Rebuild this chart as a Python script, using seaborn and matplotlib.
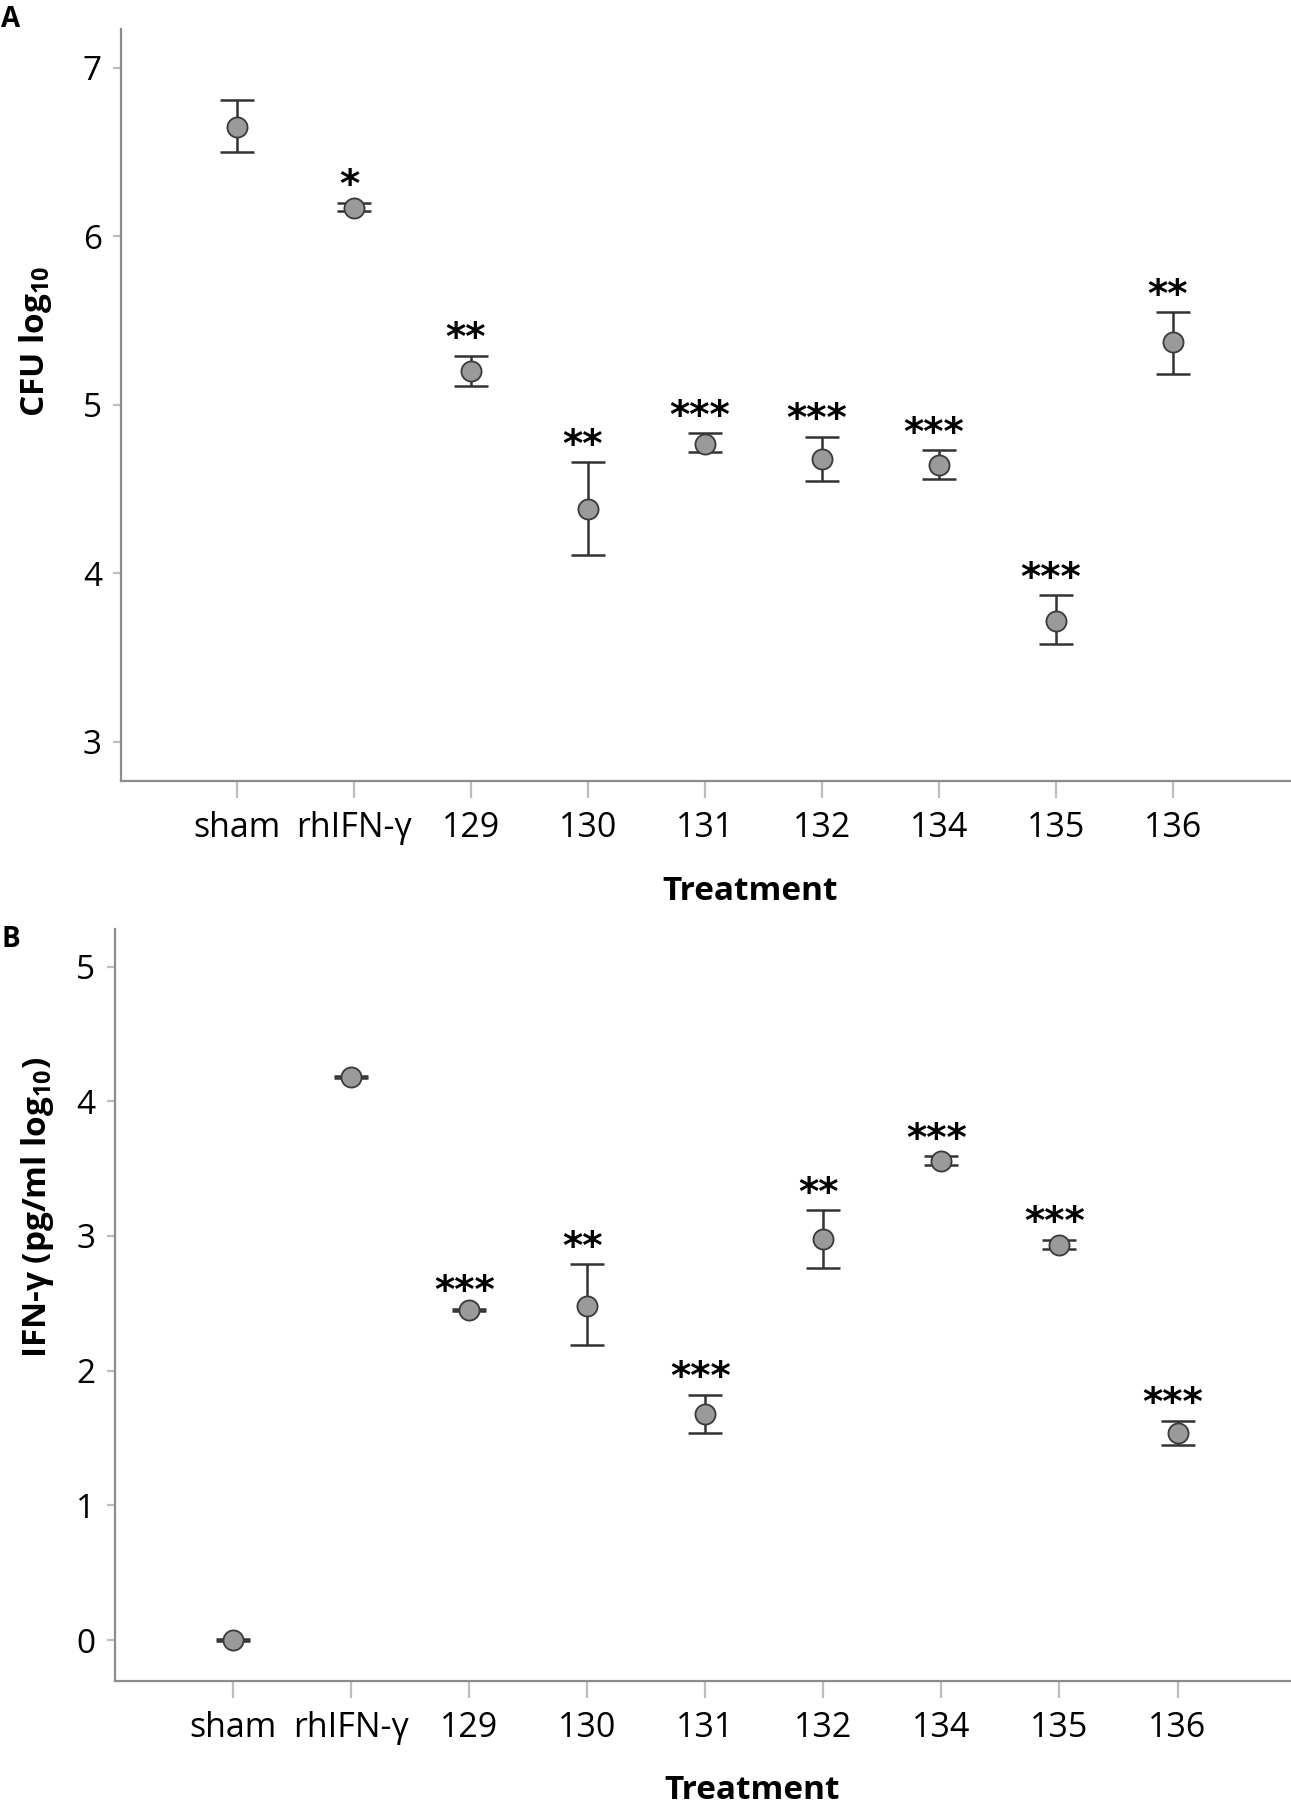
import numpy as np
import pandas as pd
import matplotlib
matplotlib.use("Agg")
import matplotlib.pyplot as plt
import seaborn as sns

# data
treatments = ["sham", "rhIFN-γ", "129", "130", "131", "132", "134", "135", "136"]

cfu_mean = [6.65, 6.17, 5.20, 4.38, 4.77, 4.68, 4.64, 3.72, 5.37]
cfu_low = [6.50, 6.15, 5.11, 4.11, 4.72, 4.55, 4.56, 3.58, 5.18]
cfu_high = [6.81, 6.20, 5.29, 4.66, 4.83, 4.81, 4.73, 3.87, 5.55]
cfu_stars = ["", "*", "**", "**", "***", "***", "***", "***", "**"]

ifn_mean = [0.0, 4.18, 2.45, 2.48, 1.68, 2.98, 3.56, 2.93, 1.54]
ifn_low = [-0.01, 4.17, 2.44, 2.19, 1.54, 2.76, 3.53, 2.90, 1.45]
ifn_high = [0.01, 4.19, 2.46, 2.79, 1.82, 3.19, 3.59, 2.97, 1.63]
ifn_stars = ["", "", "***", "**", "***", "**", "***", "***", "***"]

sns.set_style("white")
plt.rcParams["font.family"] = ["Open Sans", "DejaVu Sans"]
plt.rcParams["mathtext.fontset"] = "custom"
plt.rcParams["mathtext.rm"] = "Open Sans"
plt.rcParams["mathtext.bf"] = "Open Sans:bold"
plt.rcParams["text.color"] = "black"
plt.rcParams["axes.labelcolor"] = "black"
plt.rcParams["xtick.labelcolor"] = "black"
plt.rcParams["ytick.labelcolor"] = "black"

SPINE = "#8c8c8c"
TICK = "#bdbdbd"


def draw_panel(ax, mean, low, high, stars, ylim, xlim, yticks, ylabel,
               ylab_xy, xlab_xy):
    df = pd.DataFrame({"treatment": treatments, "mean": mean})
    x = np.arange(len(treatments))
    m = np.array(mean)
    ax.errorbar(x, m, yerr=[m - np.array(low), np.array(high) - m], fmt="none",
                ecolor="#333333", elinewidth=1.8, capsize=12, capthick=1.8, zorder=2)
    sns.scatterplot(data=df, x="treatment", y="mean", s=210, color="#9a9a9a",
                    edgecolor="#3a3a3a", linewidth=1.3, zorder=3, ax=ax, legend=False)
    for i, s in enumerate(stars):
        if s:
            ax.annotate(s, (i - 0.04, high[i]), xytext=(0, 4), textcoords="offset points",
                        ha="center", va="baseline", fontsize=28, fontweight="bold",
                        family="DejaVu Sans", color="black")
    ax.set_xlim(*xlim)
    ax.set_ylim(*ylim)
    ax.set_yticks(yticks)
    ax.set_xticks(x)
    ax.set_xticklabels(treatments)
    for sp in ["top", "right"]:
        ax.spines[sp].set_visible(False)
    for sp in ["left", "bottom"]:
        ax.spines[sp].set_color(SPINE)
        ax.spines[sp].set_linewidth(1.6)
    ax.tick_params(axis="x", length=12, width=1.6, color=TICK, pad=10,
                   labelsize=24.5, bottom=True)
    ax.tick_params(axis="y", length=6, width=1.6, color=TICK, pad=8,
                   labelsize=24, left=True)
    ax.set_xlabel("Treatment", fontsize=24, fontweight="bold")
    ax.set_ylabel(ylabel, fontsize=24, fontweight="bold")
    ax.yaxis.set_label_coords(*ylab_xy)
    ax.xaxis.set_label_coords(*xlab_xy)


fig = plt.figure(figsize=(12.91, 18.07), dpi=100)

axA = fig.add_axes([0.094, 0.568, 0.905, 0.416])
draw_panel(axA, cfu_mean, cfu_low, cfu_high, cfu_stars, (2.77, 7.23), (-0.985, 9.0),
           [3, 4, 5, 6, 7], r"CFU log$_{\mathbf{10}}$",
           (-0.058, 0.584), (0.538, -0.125))

axB = fig.add_axes([0.089, 0.070, 0.91, 0.416])
draw_panel(axB, ifn_mean, ifn_low, ifn_high, ifn_stars, (-0.30, 5.28), (-1.0, 8.95),
           [0, 1, 2, 3, 4, 5], r"IFN-γ (pg/ml log$_{\mathbf{10}}$)",
           (-0.050, 0.629), (0.542, -0.125))

fig.text(0.001, 0.997, "A", fontsize=20, fontweight="bold", va="top", ha="left")
fig.text(0.001, 0.488, "B", fontsize=20, fontweight="bold", va="top", ha="left")

fig.savefig("out.png", dpi=100)
